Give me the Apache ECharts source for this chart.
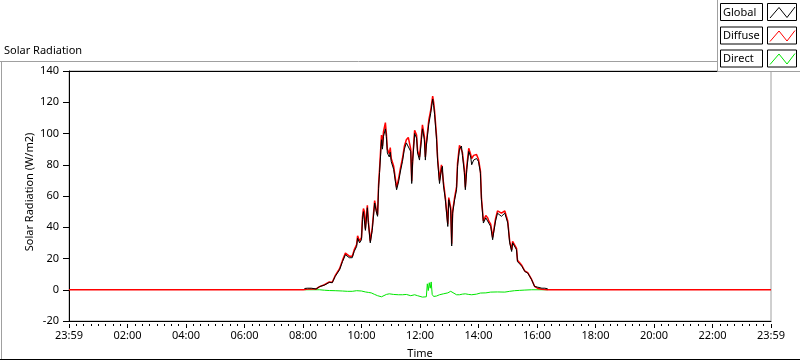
<!DOCTYPE html>
<html>
<head>
<meta charset="utf-8">
<script src="https://cdn.jsdelivr.net/npm/echarts@6/dist/echarts.min.js"></script>
<style>
  html, body { margin: 0; padding: 0; background: #fff; }
  #main { width: 800px; height: 361px; }
</style>
</head>
<body>
<div id="main"></div>
<script>
// 数据：白天采样 (HH:MM)
const dayTimes = [
  "08:02","08:08","08:16","08:26","08:33","08:43","08:53","08:59","09:05","09:14",
  "09:20","09:26","09:30","09:34","09:40","09:44","09:49","09:51","09:55","09:59",
  "10:01","10:03","10:05","10:07","10:11","10:13","10:17","10:19","10:21","10:26",
  "10:30","10:32","10:34","10:36","10:38","10:40","10:42","10:44","10:48","10:50",
  "10:52","10:56","10:58","11:00","11:05","11:09","11:11","11:15","11:19","11:23",
  "11:27","11:31","11:35","11:40","11:42","11:44","11:48","11:52","11:54","11:58",
  "12:02","12:04","12:08","12:10","12:12","12:17","12:21","12:25","12:27","12:29",
  "12:33","12:35","12:39","12:43","12:45","12:47","12:51","12:56","12:58","13:02",
  "13:04","13:06","13:10","13:14","13:16","13:20","13:24","13:26","13:30","13:32",
  "13:35","13:39","13:43","13:45","13:49","13:55","13:59","14:03","14:05","14:09",
  "14:14","14:18","14:20","14:24","14:28","14:30","14:34","14:38","14:42","14:46",
  "14:53","14:57","14:59","15:03","15:07","15:09","15:13","15:17","15:19","15:23",
  "15:28","15:34","15:40","15:48","15:54","16:00","16:09","16:15","16:21"
];
const globalVals = [
  0.8,1.0,1.0,0.5,2,3,4.7,4.5,8.5,12.8,
  18,22.4,23,20.5,20.5,24.5,27.7,33,30,32,
  45,50,49,38,52.5,43,30,29,38,55.5,
  49,47,65,75,85,96,90,98,103,98,
  87.5,85,88,82,77,68,64,69,76,82,
  90,94,95,88.5,68,82,100,97,87.5,83,
  96,103,96,83,92,106,113,122,118,112,
  96,83,68,77,79,67,57.6,40.5,57.6,51,
  28,49,57.6,64,79,90,92,86,75,64,
  77,88.5,85,80,83,84,82,74.6,57.6,42.7,
  46,44.8,42.7,40.5,32,36.3,44,49,48,47,
  49,48,42.7,30,24.5,30,31,25.6,18,17,
  15,11.7,10.7,6.4,2.1,1.7,1,1,0.6
];
const diffuseVals = [
  0.3,0.4,0.5,0.5,2,3.2,5,4.8,9,13.5,
  18.8,23.5,24.5,21.5,21.5,25.5,29,34.5,31,33.5,
  46.5,52,50,39,54,44,31,30,39.5,57,
  50,48,67,77,88,99,92,101,107,100,
  90,87,91,84,79,70,65.5,71,78,84,
  92,96,97.5,90,69.5,84,102,99,89,85,
  98.5,105.5,98,85,94,108.5,115,124,120,114,
  98,85,70,80,81,69,59,42,59,52.5,
  29.5,50.5,59,66,81,92.5,93.5,88,77,65.5,
  79,90.5,86.5,84,86,86.5,83.5,76,59,44,
  47.5,46,44,42,33.5,37.5,45.5,50.5,49.5,49,
  50.5,49.5,44,31,25.5,31,32,26.5,18.8,17.5,
  15.5,12,11,6.6,2.2,1.0,0.3,0.2,0
];
const directTimes = [
  "08:02","08:33","08:43","08:53","09:05","09:20","09:30","09:40","09:49","09:59",
  "10:03","10:07","10:13","10:19","10:26","10:32","10:36","10:40","10:44","10:50",
  "10:56","11:05","11:09","11:15","11:23","11:31","11:40","11:42","11:48","11:54",
  "11:58","12:04","12:08","12:12","12:14","12:16","12:18","12:20","12:22","12:24",
  "12:27","12:33","12:39","12:47","12:56","13:02","13:06","13:14","13:20","13:26",
  "13:32","13:39","13:45","13:55","14:03","14:14","14:24","14:38","14:53","15:03",
  "15:13","15:23","15:34","15:48","16:21"
];
const directVals = [
  0,0,-0.3,-0.5,-0.6,-0.8,-1,-1,-0.6,-0.8,
  -1.2,-1.4,-1.7,-2,-3,-3.8,-4.3,-4.5,-3.8,-3,
  -2.6,-3,-2.6,-3.2,-3.2,-3,-3.8,-2.8,-3.2,-3.8,
  -4.3,-4.7,-4.3,-4.5,3.8,-0.5,4.5,1,5,-3,
  -4.3,-4,-3.2,-2.6,-2,-1,-2,-3.2,-3.2,-2.8,
  -2.6,-3,-3.2,-2.8,-2.1,-2,-1.5,-1.4,-1.5,-1,
  -0.6,-0.4,-0.2,0,0
];
// 夜间 (前一天 23:59 开始)
const morningTimes = ["23:59", "08:00"];
const eveningTimes = ["16:30", "23:59"];
const nightVals = [0, 0];

const yTicks = [-20, 0, 20, 40, 60, 80, 100, 120, 140];

// 时间 -> 距离起点 23:59 的分钟数
function toX(hhmm, isStart) {
  const p = hhmm.split(":");
  let m = (+p[0]) * 60 + (+p[1]) + 1;
  if (isStart && m === 1440) m = 0;
  return m;
}
function pairs(times, vals, first) {
  return times.map((t, i) => [toX(t, first && i === 0), vals[i]]);
}
function fmt(v) {
  if (v === 0 || v === 1440) return "23:59";
  const h = Math.floor(v / 60);
  return (h < 10 ? "0" : "") + h + ":00";
}

const diffuseData = pairs(morningTimes, nightVals, true)
  .concat(pairs(dayTimes, diffuseVals), pairs(eveningTimes, nightVals));
// Direct 夜间与 Diffuse 重合，被红线盖住，这里只画白天
const directData = pairs(directTimes, directVals);
const globalData = pairs(dayTimes, globalVals);

const FONT = "Noto Sans";
const FS = 11;
const legendItems = [
  { name: "Global", color: "#000000" },
  { name: "Diffuse", color: "#ff0000" },
  { name: "Direct", color: "#00e600" }
];
const rowTops = [3, 26.5, 49.5];

const graphics = [
  // 外框
  { type: "line", shape: { x1: 0, y1: 61.5, x2: 717, y2: 61.5 }, style: { stroke: "#a0a0a0", lineWidth: 1 }, z: 50 },
  { type: "line", shape: { x1: 1.5, y1: 61.5, x2: 1.5, y2: 360 }, style: { stroke: "#a0a0a0", lineWidth: 1 }, z: 50 },
  { type: "line", shape: { x1: 0, y1: 359.5, x2: 800, y2: 359.5 }, style: { stroke: "#000", lineWidth: 1 }, z: 50 },
  // 图例面板
  { type: "rect", shape: { x: 717.5, y: -2, width: 90, height: 73.5 }, style: { fill: "#fff", stroke: "#a0a0a0", lineWidth: 1 }, z: 60 }
];
legendItems.forEach((it, i) => {
  const t = rowTops[i];
  graphics.push(
    { type: "rect", shape: { x: 720.5, y: t + 0.5, width: 42, height: 17 }, style: { fill: "#fff", stroke: "#000", lineWidth: 1 }, z: 61 },
    { type: "text", x: 723, y: t + 9.5, style: { text: it.name, fill: "#000", font: FS + "px '" + FONT + "'", textVerticalAlign: "middle" }, z: 62 },
    { type: "rect", shape: { x: 767.5, y: t + 0.5, width: 29, height: 17 }, style: { fill: "#fff", stroke: "#000", lineWidth: 1 }, z: 61 },
    { type: "polyline", shape: { points: [[770, t + 15], [779, t + 4.5], [787, t + 14.5], [795, t + 4]] }, style: { stroke: it.color, lineWidth: 1, fill: null }, z: 62 }
  );
});

const myChart = echarts.init(document.getElementById("main"));
const options = {
  animation: false,
  backgroundColor: "#fff",
  textStyle: { fontFamily: FONT },
  title: {
    text: "Solar Radiation",
    left: 4,
    top: 45,
    padding: 0,
    textStyle: { fontSize: FS, fontWeight: "normal", color: "#000", fontFamily: FONT }
  },
  grid: {
    left: 69, top: 71, width: 702, height: 250,
    outerBoundsMode: "none", containLabel: false,
    show: true, borderColor: "#a0a0a0", borderWidth: 1, backgroundColor: "#fff"
  },
  xAxis: [
    {
      type: "value", min: 0, max: 1440, interval: 120, position: "bottom",
      axisLine: { show: true, onZero: false, lineStyle: { color: "#000", width: 1 } },
      axisTick: { show: false }, axisLabel: { show: false }, splitLine: { show: false },
      name: "Time", nameLocation: "middle", nameGap: 27, nameMoveOverlap: false,
      nameTextStyle: { fontSize: FS, color: "#000", fontFamily: FONT }
    },
    {
      type: "value", min: 0, max: 1440, interval: 120, position: "bottom", offset: 3,
      axisLine: { show: false, onZero: false },
      axisTick: { show: true, length: 4, lineStyle: { color: "#000", width: 1 } },
      minorTick: { show: true, splitNumber: 8, length: 2, lineStyle: { color: "#000", width: 1 } },
      axisLabel: { show: true, formatter: fmt, margin: 6, fontSize: FS, color: "#000", fontFamily: FONT },
      splitLine: { show: false }
    },
    {
      type: "value", min: 0, max: 1440, position: "top",
      axisLine: { show: true, onZero: false, lineStyle: { color: "#000", width: 1 } },
      axisTick: { show: false }, axisLabel: { show: false }, splitLine: { show: false }
    }
  ],
  yAxis: {
    type: "value", min: yTicks[0], max: yTicks[yTicks.length - 1], interval: 20,
    axisLine: { show: true, onZero: false, lineStyle: { color: "#000", width: 1 } },
    axisTick: { show: true, length: 6, lineStyle: { color: "#000" } },
    axisLabel: { margin: 10, fontSize: FS, color: "#000", fontFamily: FONT },
    splitLine: { show: false },
    name: "Solar Radiation (W/m2)", nameLocation: "middle", nameGap: 34, nameMoveOverlap: false,
    nameTextStyle: { fontSize: FS, color: "#000", fontFamily: FONT, padding: [0, 0, 0, 8] }
  },
  graphic: graphics,
  series: [
    {
      name: "Direct", type: "line", data: directData, xAxisIndex: 0,
      showSymbol: false, lineStyle: { color: legendItems[2].color, width: 1 }, z: 2
    },
    {
      name: "Diffuse", type: "line", data: diffuseData, xAxisIndex: 0,
      showSymbol: false, lineStyle: { color: legendItems[1].color, width: 1.5 }, z: 3
    },
    {
      name: "Global", type: "line", data: globalData, xAxisIndex: 0,
      showSymbol: false, lineStyle: { color: legendItems[0].color, width: 1 }, z: 4
    }
  ]
};
myChart.setOption(options);
</script>
</body>
</html>
